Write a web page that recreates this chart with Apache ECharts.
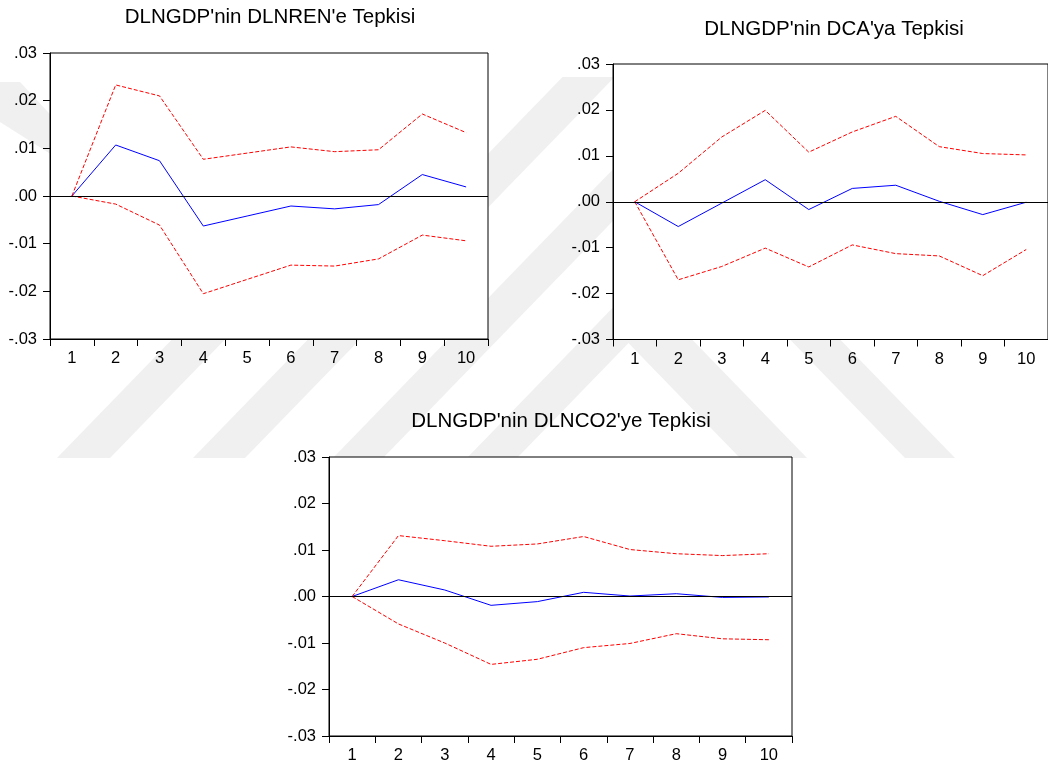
<!DOCTYPE html>
<html>
<head>
<meta charset="utf-8">
<script src="https://cdn.jsdelivr.net/npm/echarts@6/dist/echarts.min.js"></script>
<style>
  html, body { margin: 0; padding: 0; background: #fff; }
  #main { width: 1048px; height: 769px; }
</style>
</head>
<body>
<div id="main"></div>
<script>
// impulse responses of DLNGDP, 10 periods
const periods = ['1', '2', '3', '4', '5', '6', '7', '8', '9', '10']

const renResp = [0, 0.0107, 0.0074, -0.0063, -0.0042, -0.0021, -0.0027, -0.0018, 0.0045, 0.0019]
const renUpper = [0, 0.0233, 0.0210, 0.0077, 0.0090, 0.0103, 0.0093, 0.0097, 0.0172, 0.0133]
const renLower = [0, -0.0017, -0.0061, -0.0205, -0.0175, -0.0145, -0.0147, -0.0132, -0.0082, -0.0094]

const caResp = [0, -0.0054, -0.0003, 0.0048, -0.0017, 0.0029, 0.0036, 0.0001, -0.0028, -0.0001]
const caUpper = [0, 0.0062, 0.0141, 0.0199, 0.0108, 0.0152, 0.0186, 0.0120, 0.0105, 0.0102]
const caLower = [0, -0.0170, -0.0141, -0.0101, -0.0142, -0.0094, -0.0113, -0.0118, -0.0161, -0.0104]

const co2Resp = [0, 0.0036, 0.0014, -0.0019, -0.0011, 0.0009, 0.0001, 0.0006, -0.0002, -0.0001]
const co2Upper = [0, 0.0131, 0.0120, 0.0108, 0.0113, 0.0129, 0.0101, 0.0092, 0.0088, 0.0092]
const co2Lower = [0, -0.0059, -0.0100, -0.0146, -0.0135, -0.0110, -0.0101, -0.0080, -0.0091, -0.0093]

const titles = ["DLNGDP'nin DLNREN'e Tepkisi", "DLNGDP'nin DCA'ya Tepkisi", "DLNGDP'nin DLNCO2'ye Tepkisi"]

const font = 'Liberation Sans, Arial, sans-serif'

const panels = [
  { grid: { left: 50, top: 53, width: 438, height: 286 }, title: { left: 270, top: 7 }, resp: renResp, upper: renUpper, lower: renLower },
  { grid: { left: 613, top: 64, width: 441, height: 275.5 }, title: { left: 834, top: 19 }, resp: caResp, upper: caUpper, lower: caLower },
  { grid: { left: 329, top: 457, width: 463, height: 279 }, title: { left: 561, top: 411 }, resp: co2Resp, upper: co2Upper, lower: co2Lower },
]

const fmtTick = function (v) {
  if (Math.abs(v) < 1e-9) return '.00'
  return v.toFixed(2).replace('0.', '.')
}

// faint watermark stripes in the background
const slope = 0.97
const stripeUp = (a, b, top) => [[a, 458], [b, 458], [b + (458 - top) * slope, top], [a + (458 - top) * slope, top]]
const stripeDown = (a, b, top) => [[a, 458], [b, 458], [b - (458 - top) * slope, top], [a - (458 - top) * slope, top]]
const wmShapes = [
  stripeUp(57, 110, 77), stripeUp(193, 245, 77), stripeUp(333, 383, 77), stripeUp(467, 517, 77),
  stripeDown(740, 807, 325), stripeDown(905, 955, 200),
  [[0, 82], [20, 82], [60, 125], [60, 160], [0, 122]],
]

const option = {
  animation: false,
  backgroundColor: '#fff',
  title: [],
  grid: [],
  xAxis: [],
  yAxis: [],
  series: [],
  graphic: wmShapes.map(pts => ({
    type: 'polygon',
    z: -10,
    silent: true,
    shape: { points: pts },
    style: { fill: '#f0f0f0' }
  })),
}

panels.forEach((p, i) => {
  option.title.push({
    text: titles[i],
    left: p.title.left,
    top: p.title.top,
    textAlign: 'center',
    textVerticalAlign: 'top',
    padding: 0,
    textStyle: { fontFamily: font, fontSize: 20.5, fontWeight: 'normal', color: '#000' }
  })
  option.grid.push(Object.assign({
    show: true,
    backgroundColor: '#fff',
    borderColor: '#000',
    borderWidth: 1,
    containLabel: false
  }, p.grid))
  option.xAxis.push({
    type: 'category',
    gridIndex: i,
    data: periods,
    boundaryGap: true,
    axisLine: { show: true, onZero: false, lineStyle: { color: '#000', width: 1 } },
    axisTick: { show: true, length: 7, lineStyle: { color: '#000' } },
    axisLabel: { interval: 0, margin: 11, fontSize: 16.5, fontFamily: font, color: '#000' },
    splitLine: { show: false }
  })
  option.yAxis.push({
    type: 'value',
    gridIndex: i,
    min: -0.03,
    max: 0.03,
    interval: 0.01,
    axisLine: { show: true, onZero: false, lineStyle: { color: '#000', width: 1 } },
    axisTick: { show: true, length: 7, lineStyle: { color: '#000' } },
    axisLabel: { margin: 13, fontSize: 16.5, fontFamily: font, color: '#000', formatter: fmtTick },
    splitLine: { show: false }
  })
  option.series.push(
    {
      type: 'line',
      xAxisIndex: i,
      yAxisIndex: i,
      data: p.resp,
      symbol: 'none',
      lineStyle: { color: '#0000ff', width: 1 },
      markLine: {
        silent: true,
        symbol: ['none', 'none'],
        label: { show: false },
        lineStyle: { color: '#000', width: 1, type: 'solid' },
        data: [{ yAxis: 0 }]
      }
    },
    {
      type: 'line',
      xAxisIndex: i,
      yAxisIndex: i,
      data: p.upper,
      symbol: 'none',
      lineStyle: { color: '#ff0000', width: 1, type: [4, 2] }
    },
    {
      type: 'line',
      xAxisIndex: i,
      yAxisIndex: i,
      data: p.lower,
      symbol: 'none',
      lineStyle: { color: '#ff0000', width: 1, type: [4, 2] }
    }
  )
})

const chart = echarts.init(document.getElementById('main'))
chart.setOption(option)
</script>
</body>
</html>
